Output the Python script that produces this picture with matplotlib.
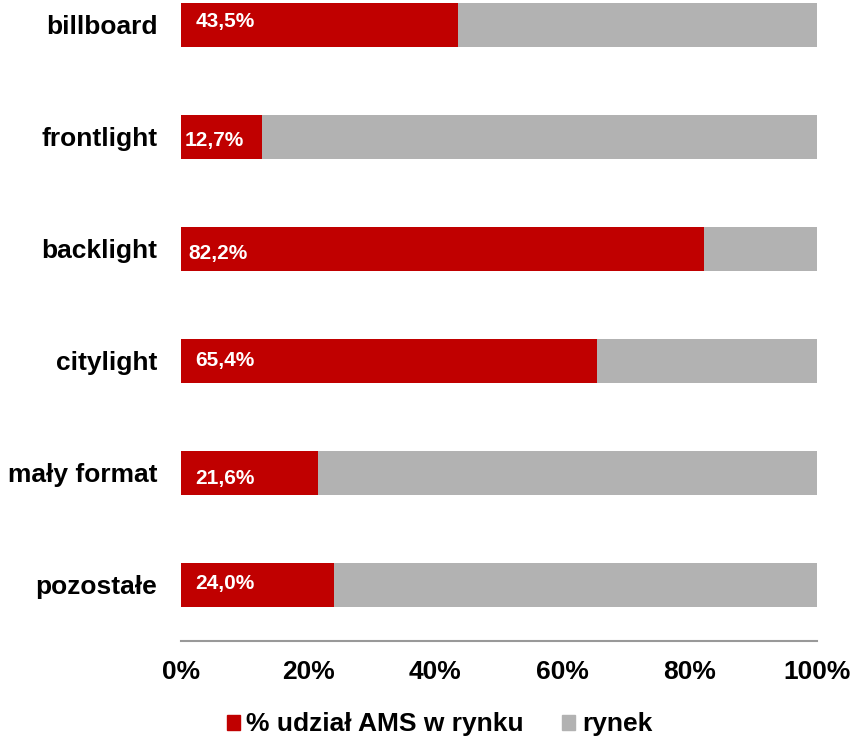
import matplotlib.pyplot as plt
from matplotlib.patches import Patch

categories = ['billboard', 'frontlight', 'backlight', 'citylight', 'mały format', 'pozostałe']
ams_share = [43.5, 12.7, 82.2, 65.4, 21.6, 24.0]
market = [100 - v for v in ams_share]
value_labels = ['43,5%', '12,7%', '82,2%', '65,4%', '21,6%', '24,0%']
xticks = [0, 20, 40, 60, 80, 100]
xtick_labels = ['0%', '20%', '40%', '60%', '80%', '100%']
series_names = ['% udział AMS w rynku', 'rynek']

RED = '#C00000'
GREY = '#B2B2B2'

plt.rcParams['font.family'] = ['Liberation Sans', 'DejaVu Sans']
plt.rcParams['font.weight'] = 'bold'

fig = plt.figure(figsize=(8.55, 7.43), dpi=100)
ax = fig.add_axes([0.2117, 0.1373, 0.7439, 0.8592])

ypos = list(range(len(categories)))
ax.barh(ypos, ams_share, height=0.393, color=RED)
ax.barh(ypos, market, left=ams_share, height=0.393, color=GREY)

# where the value labels sit inside the red bars
lab_x = [2.3, 0.6, 1.2, 2.3, 2.3, 2.3]
lab_dy = [-0.027, 0.027, 0.036, 0.0, 0.045, -0.01]
for i, lab in enumerate(value_labels):
    ax.text(lab_x[i], ypos[i] + lab_dy[i], lab, color='white', fontsize=15,
            fontweight='bold', va='center', ha='left')

ax.set_xlim(0, 100)
ax.set_ylim(5.5, -0.2)
ax.set_yticks(ypos)
ax.set_yticklabels(categories, fontsize=19, fontweight='bold')
ax.set_xticks(xticks)
ax.set_xticklabels(xtick_labels, fontsize=19, fontweight='bold')
ax.tick_params(axis='both', length=0)
ax.tick_params(axis='x', pad=14)
ax.tick_params(axis='y', pad=17)

for s in ['top', 'right', 'left']:
    ax.spines[s].set_visible(False)
ax.spines['bottom'].set_color('#999999')
ax.spines['bottom'].set_linewidth(1.5)

handles = [Patch(color=RED), Patch(color=GREY)]
fig.legend(handles, series_names, loc='center', bbox_to_anchor=(0.514, 0.025),
           ncol=2, frameon=False, handlelength=0.5, handleheight=0.5,
           handletextpad=0.25, columnspacing=1.45,
           prop={'weight': 'bold', 'size': 19})

fig.savefig('out.png', dpi=100)
